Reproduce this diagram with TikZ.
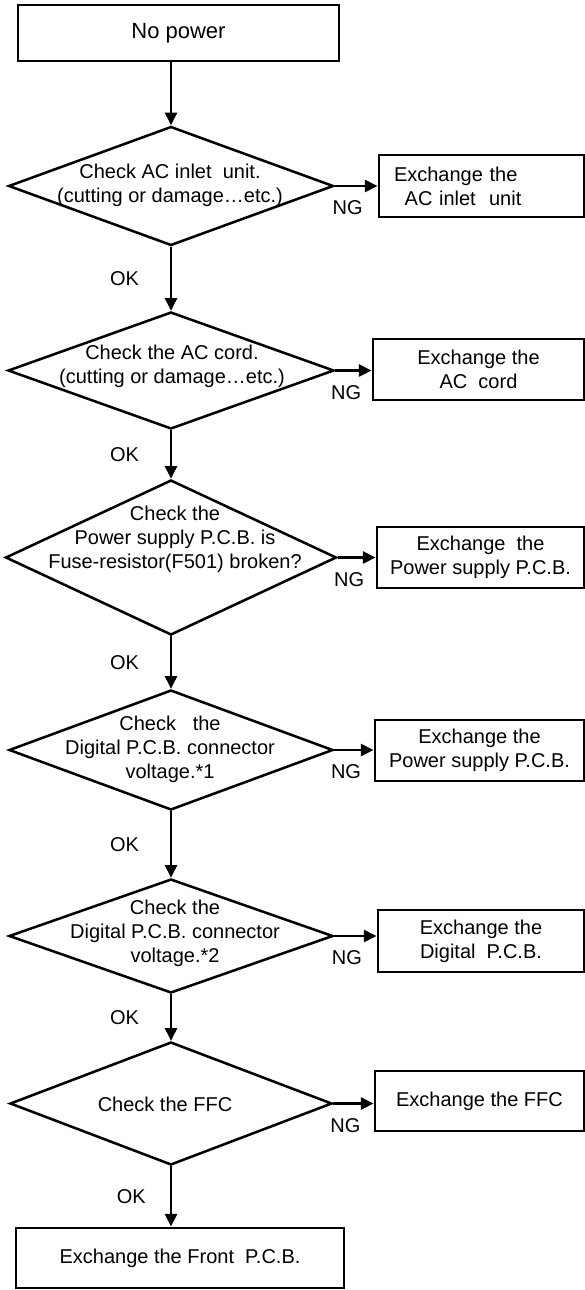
\documentclass[tikz,border=0pt]{standalone}
\usepackage{fontspec}
\setmainfont{Liberation Sans}
\usetikzlibrary{arrows.meta,positioning,shapes.geometric}

\begin{document}
\begin{tikzpicture}[x=0.75pt,y=-0.75pt,>={Triangle[length=9.5pt,width=9pt]},
every node/.style={font=\fontsize{15}{18}\selectfont,align=center},
box/.style={draw,line width=2.2pt,inner sep=0pt},
dec/.style={draw,diamond,line width=1.9pt,inner sep=0pt},
line/.style={line width=1.9pt},
tag/.style={inner sep=2pt}]
\useasboundingbox (0,0) rectangle (585,1290);
% start
\node[box,minimum width=240.75pt,minimum height=42pt,font=\fontsize{16.5}{18}\selectfont] (b0) at (178.5,33) {No power};
% checks
\node[dec,minimum width=243.75pt,minimum height=89.25pt] (q1) at (171,186) {};
\node (q1t) at (170,185.5) {Check AC inlet\ \ unit.\\(cutting or damage…etc.)};
\node[dec,minimum width=244.5pt,minimum height=87.75pt] (q2) at (171,370.5) {};
\node (q2t) at (172,366.5) {Check the AC cord.\\(cutting or damage…etc.)};
\node[dec,minimum width=248.25pt,minimum height=116.25pt] (q3) at (171,557.5) {};
\node (q3t) at (175,539) {Check the\\Power supply P.C.B. is\\Fuse-resistor(F501) broken?};
\node[dec,minimum width=243pt,minimum height=90pt] (q4) at (171,750) {};
\node (q4t) at (170,749) {Check\ \ \ the\\Digital P.C.B. connector\\voltage.*1};
\node[dec,minimum width=243pt,minimum height=85.5pt] (q5) at (171,936) {};
\node (q5t) at (175,933) {Check the\\Digital P.C.B. connector\\voltage.*2};
\node[dec,minimum width=241.5pt,minimum height=92.25pt] (q6) at (171,1103.5) {};
\node (q6t) at (165,1104) {Check the FFC};
% repairs
\node[box,text width=131.25pt,inner xsep=11.25pt,minimum height=46.5pt,align=left] (b1) at (481.5,186) {Exchange the\\\hspace*{8pt}AC inlet\ \ unit};
\node[box,minimum width=158.25pt,minimum height=45.75pt] (b2) at (478.5,369.5) {Exchange the\\AC\ \ cord};
\node[box,minimum width=155.25pt,minimum height=45.75pt] (b3) at (480.5,557.5) {Exchange\ \ the\\Power supply P.C.B.};
\node[box,minimum width=156.75pt,minimum height=45.75pt] (b4) at (479.5,750.5) {Exchange the\\Power supply P.C.B.};
\node[box,minimum width=154.5pt,minimum height=46.5pt] (b5) at (481,941) {Exchange the\\Digital\ \ P.C.B.};
\node[box,minimum width=156.75pt,minimum height=45pt] (b6) at (479.5,1101) {Exchange the FFC};
\node[box,minimum width=246pt,minimum height=45pt] (b7) at (180,1258) {Exchange the Front\ \ P.C.B.};
% flow
\draw[line,->] (b0.south -| q1.north) -- (q1.north);
\draw[line,->] (q1.south) -- node[tag,left=21pt]{OK} (q2.north);
\draw[line,->] (q2.south) -- node[tag,left=21pt]{OK} (q3.north);
\draw[line,->] (q3.south) -- node[tag,left=21pt]{OK} (q4.north);
\draw[line,->] (q4.south) -- node[tag,left=21pt]{OK} (q5.north);
\draw[line,->] (q5.south) -- node[tag,left=21pt]{OK} (q6.north);
\draw[line,->] (q6.south) -- node[tag,left=16pt]{OK} (q6.south |- b7.north);
\foreach \i in {1,...,6}
  \draw[line,->] (q\i.east) -- node[tag,pos=0.3,below=8pt]{NG} (q\i.east -| b\i.west);
\end{tikzpicture}
\end{document}
